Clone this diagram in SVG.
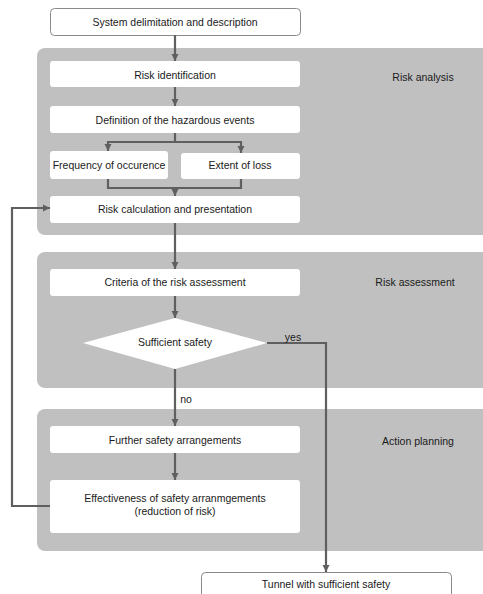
<svg xmlns="http://www.w3.org/2000/svg" width="483" height="594" viewBox="0 0 483 594">
<defs>
<marker id="ah" markerUnits="userSpaceOnUse" markerWidth="8" markerHeight="8" refX="7" refY="4" orient="auto">
<path d="M0,0.5 L7,4 L0,7.5 Z" fill="#5f5f5f"/>
</marker>
<style>
text{font-family:"Liberation Sans",Arial,sans-serif;font-size:10.5px;fill:#1a1a1a;text-anchor:middle}
.grp{fill:#c0c0c0}
.box{fill:#ffffff}
.obox{fill:#ffffff;stroke:#8a8a8a;stroke-width:1}
.c{fill:none;stroke:#5f5f5f;stroke-width:2.2}
.a{marker-end:url(#ah)}
</style>
</defs>
<g id="phase-risk-analysis">
<rect class="grp" x="37" y="48" width="460" height="187" rx="8"/>
<text x="423" y="81">Risk analysis</text>
</g>
<g id="phase-risk-assessment">
<rect class="grp" x="37" y="252" width="460" height="136" rx="8"/>
<text x="415" y="286">Risk assessment</text>
</g>
<g id="phase-action-planning">
<rect class="grp" x="37" y="409" width="460" height="142" rx="8"/>
<text x="418" y="445">Action planning</text>
</g>
<g id="system">
<rect class="obox" x="50.5" y="8.5" width="250" height="27" rx="4"/>
<text x="175" y="26">System delimitation and description</text>
</g>
<g id="risk-identification">
<rect class="box" x="50" y="61" width="250" height="26" rx="3"/>
<text x="175" y="79">Risk identification</text>
</g>
<g id="hazardous-events">
<rect class="box" x="50" y="106" width="250" height="27" rx="3"/>
<text x="175" y="124">Definition of the hazardous events</text>
</g>
<g id="frequency">
<rect class="box" x="50" y="151" width="118" height="28" rx="3"/>
<text x="109" y="169">Frequency of occurence</text>
</g>
<g id="extent">
<rect class="box" x="181" y="153" width="119" height="26" rx="3"/>
<text x="240" y="169">Extent of loss</text>
</g>
<g id="risk-calculation">
<rect class="box" x="50" y="196" width="250" height="27" rx="3"/>
<text x="175" y="213">Risk calculation and presentation</text>
</g>
<g id="criteria">
<rect class="box" x="50" y="269" width="250" height="27" rx="3"/>
<text x="175" y="286">Criteria of the risk assessment</text>
</g>
<g id="sufficient-safety">
<polygon class="box" points="83,343 175,318 267,343 175,369"/>
<text x="175" y="346">Sufficient safety</text>
</g>
<g id="further-safety">
<rect class="box" x="50" y="426" width="250" height="27" rx="3"/>
<text x="175" y="444">Further safety arrangements</text>
</g>
<g id="effectiveness">
<rect class="box" x="50" y="480" width="250" height="53" rx="3"/>
<text x="175" y="502">Effectiveness of safety arranmgements</text>
<text x="175" y="515">(reduction of risk)</text>
</g>
<g id="tunnel">
<rect class="obox" x="201.5" y="572.5" width="250" height="30" rx="4"/>
<text x="326" y="588">Tunnel with sufficient safety</text>
</g>
<g id="connectors">
<path class="c a" d="M175,35 V61"/>
<path class="c a" d="M175,87 V106"/>
<path class="c" d="M175,133 V142 M107,142 H242"/>
<path class="c a" d="M108,142 V151"/>
<path class="c a" d="M241,142 V153"/>
<path class="c" d="M108,179 V188 H241 V179"/>
<path class="c a" d="M175,188 V196"/>
<path class="c a" d="M175,223 V269"/>
<path class="c a" d="M175,296 V318"/>
<path class="c a" d="M267,343 H326 V572"/>
<text x="293" y="341" style="text-anchor:middle">yes</text>
<path class="c a" d="M175,369 V426"/>
<text x="186" y="403" style="text-anchor:middle">no</text>
<path class="c a" d="M175,453 V480"/>
<path class="c a" d="M50,506 H12 V208 H50"/>
</g>
</svg>
